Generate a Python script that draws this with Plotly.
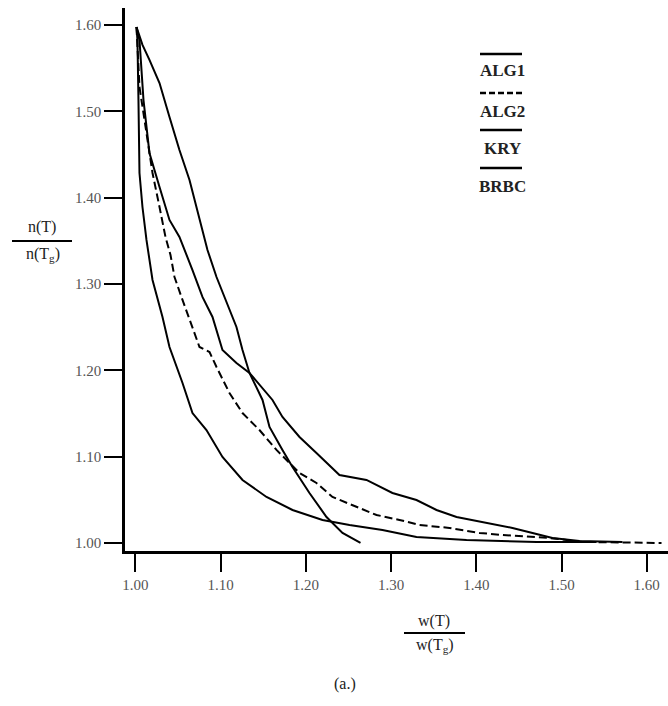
import plotly.graph_objects as go

# ---------------- data ----------------
tick_vals = [1.00, 1.10, 1.20, 1.30, 1.40, 1.50, 1.60]
tick_labels = ["1.00", "1.10", "1.20", "1.30", "1.40", "1.50", "1.60"]

legend_names = ["ALG1", "ALG2", "KRY", "BRBC"]

alg1_x = [1.0012, 1.0047, 1.0094, 1.0164, 1.0282, 1.0399, 1.0516, 1.0587, 1.0669, 1.0786,
          1.0904, 1.1021, 1.1185, 1.1338, 1.1608, 1.1725, 1.1925, 1.2124, 1.2394, 1.2711,
          1.3016, 1.3298, 1.3533, 1.3768, 1.4120, 1.4425, 1.4660, 1.4894, 1.5211, 1.5716]
alg1_y = [1.5979, 1.5829, 1.5133, 1.4519, 1.4125, 1.3743, 1.3546, 1.3372, 1.3163, 1.2851,
          1.2619, 1.2236, 1.2086, 1.1970, 1.1657, 1.1460, 1.1228, 1.1043, 1.0788, 1.0730,
          1.0579, 1.0498, 1.0382, 1.0301, 1.0232, 1.0174, 1.0116, 1.0058, 1.0023, 1.0012]

alg2_x = [1.0012, 1.0035, 1.0047, 1.0106, 1.0164, 1.0200, 1.0282, 1.0352, 1.0411, 1.0458,
          1.0552, 1.0669, 1.0751, 1.0869, 1.0951, 1.1103, 1.1256, 1.1455, 1.1655, 1.1925,
          1.2124, 1.2312, 1.2594, 1.2829, 1.3099, 1.3333, 1.3685, 1.4038, 1.4308, 1.4859,
          1.5246, 1.6174]
alg2_y = [1.5979, 1.5597, 1.5284, 1.4901, 1.4519, 1.4287, 1.3893, 1.3546, 1.3337, 1.3082,
          1.2816, 1.2503, 1.2271, 1.2213, 1.2039, 1.1738, 1.1506, 1.1309, 1.1078, 1.0811,
          1.0695, 1.0533, 1.0417, 1.0324, 1.0267, 1.0209, 1.0174, 1.0116, 1.0093, 1.0058,
          1.0012, 1.0000]

kry_x = [1.0012, 1.0082, 1.0164, 1.0282, 1.0399, 1.0516, 1.0634, 1.0751, 1.0845, 1.0951,
         1.1068, 1.1185, 1.1256, 1.1338, 1.1491, 1.1573, 1.1725, 1.1843, 1.2042, 1.2242,
         1.2430, 1.2641]
kry_y = [1.5979, 1.5771, 1.5597, 1.5330, 1.4936, 1.4554, 1.4206, 1.3743, 1.3395, 1.3082,
         1.2781, 1.2503, 1.2236, 1.1970, 1.1657, 1.1344, 1.1078, 1.0881, 1.0579, 1.0301,
         1.0116, 1.0000]

brbc_x = [1.0012, 1.0023, 1.0035, 1.0047, 1.0082, 1.0129, 1.0200, 1.0317, 1.0399, 1.0552,
          1.0669, 1.0833, 1.1021, 1.1256, 1.1538, 1.1843, 1.2195, 1.2512, 1.2899, 1.3298,
          1.3885, 1.4707, 1.5411]
brbc_y = [1.5979, 1.5829, 1.5133, 1.4287, 1.3893, 1.3511, 1.3048, 1.2619, 1.2271, 1.1854,
          1.1506, 1.1309, 1.0997, 1.0730, 1.0533, 1.0382, 1.0267, 1.0209, 1.0151, 1.0070,
          1.0035, 1.0012, 1.0012]

# ---------------- layout helpers ----------------
W, H = 668, 706
ML, MR, MT, MB = 125, 0, 8, 155
PW, PH = W - ML - MR, H - MT - MB


def fx(px):
    return (px - ML) / PW


def fy(py):
    return (H - MB - py) / PH


SERIF = "Liberation Serif, Times New Roman, serif"

fig = go.Figure()
series = [(alg1_x, alg1_y, "solid"), (alg2_x, alg2_y, "8px,4px"),
          (kry_x, kry_y, "solid"), (brbc_x, brbc_y, "solid")]
for name, (xs, ys, dash) in zip(legend_names, series):
    fig.add_trace(go.Scatter(x=xs, y=ys, mode="lines", name=name, showlegend=False,
                             line=dict(color="black", width=2, dash=dash)))

axis_common = dict(showline=True, linecolor="black", linewidth=2.5, ticks="outside",
                   ticklen=18, tickwidth=2, tickcolor="black", showgrid=False,
                   zeroline=False, tickvals=tick_vals, ticktext=tick_labels,
                   ticklabeloverflow="allow",
                   tickfont=dict(family=SERIF, size=15, color="#555"))

fig.update_layout(
    width=W, height=H,
    margin=dict(l=ML, r=MR, t=MT, b=MB, pad=0),
    paper_bgcolor="white", plot_bgcolor="white",
    xaxis=dict(range=[0.9877, 1.625], **axis_common),
    yaxis=dict(range=[0.9907, 1.6199], **axis_common),
)

annotations = []
shapes = []


def text_at(txt, px, py, size=16, bold=False):
    annotations.append(dict(text=("<b>%s</b>" % txt) if bold else txt,
                            x=fx(px), y=fy(py), xref="paper", yref="paper",
                            xanchor="center", yanchor="middle", showarrow=False,
                            font=dict(family=SERIF, size=size, color="#222")))


def hline(px0, px1, py, dash="solid", width=2):
    shapes.append(dict(type="line", xref="paper", yref="paper",
                       x0=fx(px0), x1=fx(px1), y0=fy(py), y1=fy(py),
                       line=dict(color="black", width=width, dash=dash)))


# y-axis title (fraction)
text_at("n(T)", 42, 227)
hline(12, 72, 241, width=1.8)
text_at("n(T<sub>g</sub>)", 43, 255)

# x-axis title (fraction)
text_at("w(T)", 434, 621)
hline(404, 465, 633, width=1.8)
text_at("w(T<sub>g</sub>)", 435, 645)

# panel label
text_at("(a.)", 345, 684)

# custom legend: line above each label
leg_line_y = [54, 93, 130, 168]
leg_text_y = [70, 112, 148, 186]
leg_dash = ["solid", "6px,3px", "solid", "solid"]
for name, ly, ty, d in zip(legend_names, leg_line_y, leg_text_y, leg_dash):
    hline(480, 522, ly, dash=d, width=2.5)
    text_at(name, 502, ty, size=17, bold=True)

fig.update_layout(annotations=annotations, shapes=shapes)

# remove the default page margin so the figure sits at the window's top-left corner
fig.write_html("out.html", config={"displayModeBar": False},
               post_script="document.body.style.margin='0';document.body.style.overflow='hidden';")
